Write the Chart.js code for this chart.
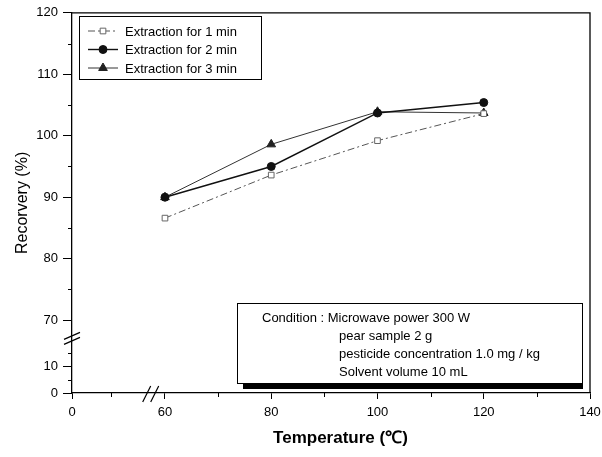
<!DOCTYPE html>
<html>
<head>
<meta charset="utf-8">
<script src="https://cdn.jsdelivr.net/npm/chart.js@4.4.0/dist/chart.umd.min.js"></script>
<style>
    html, body { margin: 0; padding: 0; background: #fff; }
    #wrap { width: 602px; height: 457px; }
</style>
</head>
<body>
<div id="wrap"><canvas id="recoveryChart" width="602" height="457"></canvas></div>
<script>
// data
const temps = [60, 80, 100, 120];
const rec1min = [86.6, 93.6, 99.2, 103.6];
const rec2min = [90.0, 95.0, 103.7, 105.4];
const rec3min = [90.0, 98.6, 103.9, 103.7];
const seriesNames = ['Extraction for 1 min', 'Extraction for 2 min', 'Extraction for 3 min'];

const xTickValues = [0, 60, 80, 100, 120, 140];
const xMinorValues = [25, 70, 90, 110, 130];
const yTickValues = [0, 10, 70, 80, 90, 100, 110, 120];
const yMinorValues = [5, 15, 75, 85, 95, 105, 115];

const conditionLines = [
    'Condition : Microwave power 300 W',
    'pear sample 2 g',
    'pesticide concentration 1.0 mg / kg',
    'Solvent volume 10 mL'
];

const FONT = "'Liberation Sans', Arial, sans-serif";

// Both axes are broken: the part below the break is squeezed
function yPos(v) { return v >= 65 ? v : 58.15 + v * 0.43; }
function xPos(v) { return v >= 55 ? v : 42.5 + v * 0.2917; }

function toPoints(xs, ys) {
    return xs.map((x, i) => ({ x: xPos(x), y: yPos(ys[i]) }));
}

const styles = [
    { borderColor: '#555', borderWidth: 1, borderDash: [7, 3, 2, 3], pointStyle: 'rect', pointRadius: 4,
      pointBackgroundColor: '#fff', pointBorderColor: '#666', pointBorderWidth: 1 },
    { borderColor: '#111', borderWidth: 1.4, borderDash: [], pointStyle: 'circle', pointRadius: 4,
      pointBackgroundColor: '#111', pointBorderColor: '#111', pointBorderWidth: 1 },
    { borderColor: '#333', borderWidth: 1, borderDash: [], pointStyle: 'triangle', pointRadius: 5,
      pointBackgroundColor: '#222', pointBorderColor: '#222', pointBorderWidth: 1 }
];

const seriesData = [rec1min, rec2min, rec3min];

const datasets = seriesData.map((vals, i) => Object.assign({
    label: seriesNames[i],
    data: toPoints(temps, vals),
    fill: false,
    tension: 0
}, styles[i]));

// Draws frame, minor ticks, axis breaks, legend box and condition box
const decorations = {
    id: 'decorations',
    afterDraw(chart) {
        const ctx = chart.ctx;
        const area = chart.chartArea;
        const xs = chart.scales.x;
        const ys = chart.scales.y;
        ctx.save();

        // frame on top and right
        ctx.strokeStyle = '#000';
        ctx.lineWidth = 1.3;
        ctx.beginPath();
        ctx.moveTo(area.left, area.top);
        ctx.lineTo(area.right, area.top);
        ctx.lineTo(area.right, area.bottom);
        ctx.stroke();

        // minor ticks
        ctx.lineWidth = 1;
        ctx.beginPath();
        yMinorValues.forEach(v => {
            const p = Math.round(ys.getPixelForValue(yPos(v))) + 0.5;
            ctx.moveTo(area.left, p);
            ctx.lineTo(area.left - 4, p);
        });
        xMinorValues.forEach(v => {
            const p = Math.round(xs.getPixelForValue(xPos(v))) + 0.5;
            ctx.moveTo(p, area.bottom);
            ctx.lineTo(p, area.bottom + 4);
        });
        ctx.stroke();

        // break marks
        ctx.lineWidth = 1.2;
        const yb = ys.getPixelForValue(67.2);
        ctx.beginPath();
        ctx.moveTo(area.left - 8, yb + 2); ctx.lineTo(area.left + 8, yb - 5);
        ctx.moveTo(area.left - 8, yb + 7); ctx.lineTo(area.left + 8, yb);
        const xb = xs.getPixelForValue(57.5);
        ctx.moveTo(xb - 9, area.bottom + 9); ctx.lineTo(xb - 1, area.bottom - 7);
        ctx.moveTo(xb - 1, area.bottom + 9); ctx.lineTo(xb + 7, area.bottom - 7);
        ctx.stroke();

        // legend
        ctx.fillStyle = '#fff';
        ctx.fillRect(79, 16, 182, 63);
        ctx.strokeStyle = '#000';
        ctx.lineWidth = 1;
        ctx.strokeRect(79.5, 16.5, 182, 63);
        ctx.font = '13px ' + FONT;
        ctx.textBaseline = 'middle';
        seriesNames.forEach((name, i) => {
            const st = styles[i];
            const y = 31 + i * 18.5;
            ctx.strokeStyle = st.borderColor;
            ctx.lineWidth = st.borderWidth;
            ctx.setLineDash(st.borderDash);
            ctx.beginPath();
            ctx.moveTo(88, y);
            ctx.lineTo(118, y);
            ctx.stroke();
            ctx.setLineDash([]);
            ctx.fillStyle = st.pointBackgroundColor;
            ctx.strokeStyle = st.pointBorderColor;
            ctx.lineWidth = st.pointBorderWidth;
            Chart.helpers.drawPoint(ctx, {
                pointStyle: st.pointStyle, radius: st.pointRadius, borderWidth: st.pointBorderWidth, rotation: 0
            }, 103, y);
            ctx.fillStyle = '#000';
            ctx.fillText(name, 125, y + 1);
        });

        // condition box with shadow
        ctx.fillStyle = '#000';
        ctx.fillRect(243, 383, 340, 6);
        ctx.fillStyle = '#fff';
        ctx.fillRect(237, 303, 346, 80);
        ctx.strokeStyle = '#000';
        ctx.lineWidth = 1;
        ctx.strokeRect(237.5, 303.5, 345, 80);
        ctx.fillStyle = '#000';
        ctx.font = '13px ' + FONT;
        conditionLines.forEach((line, i) => {
            ctx.fillText(line, i === 0 ? 262 : 339, 318 + i * 18);
        });

        ctx.restore();
    }
};

const ctx = document.getElementById('recoveryChart').getContext('2d');
new Chart(ctx, {
    type: 'line',
    data: { datasets: datasets },
    options: {
        responsive: false,
        animation: false,
        layout: { padding: { top: 12, right: 12, left: 0, bottom: 0 } },
        plugins: {
            legend: { display: false },
            tooltip: { enabled: false }
        },
        scales: {
            x: {
                type: 'linear',
                min: xPos(0),
                max: 140,
                afterBuildTicks: scale => {
                    scale.ticks = xTickValues.map(v => ({ value: xPos(v) }));
                },
                afterFit: scale => {
                    scale.height = 64;
                    scale.paddingRight = 0;
                    scale.paddingLeft = 0;
                },
                ticks: {
                    autoSkip: false,
                    maxRotation: 0,
                    padding: 6,
                    color: '#000',
                    font: { family: FONT, size: 13 },
                    callback: (val, i) => String(xTickValues[i])
                },
                grid: { drawOnChartArea: false, tickLength: 6, color: '#000', lineWidth: 1 },
                border: { color: '#000', width: 1.3 },
                title: {
                    display: true,
                    text: '    Temperature (℃)',
                    color: '#000',
                    font: { family: FONT, size: 17, weight: 'bold' },
                    padding: { top: 0, bottom: 8 }
                }
            },
            y: {
                type: 'linear',
                min: yPos(0),
                max: 120,
                afterBuildTicks: scale => {
                    scale.ticks = yTickValues.map(v => ({ value: yPos(v) }));
                },
                afterFit: scale => { scale.width = 72; },
                ticks: {
                    autoSkip: false,
                    padding: 5,
                    color: '#000',
                    font: { family: FONT, size: 13 },
                    callback: (val, i) => String(yTickValues[i])
                },
                grid: { drawOnChartArea: false, tickLength: 9, color: '#000', lineWidth: 1 },
                border: { color: '#000', width: 1.3 },
                title: {
                    display: true,
                    text: 'Recorvery (%)',
                    color: '#000',
                    font: { family: FONT, size: 16 },
                    padding: { top: 13, bottom: 0 }
                }
            }
        }
    },
    plugins: [decorations]
});
</script>
</body>
</html>
